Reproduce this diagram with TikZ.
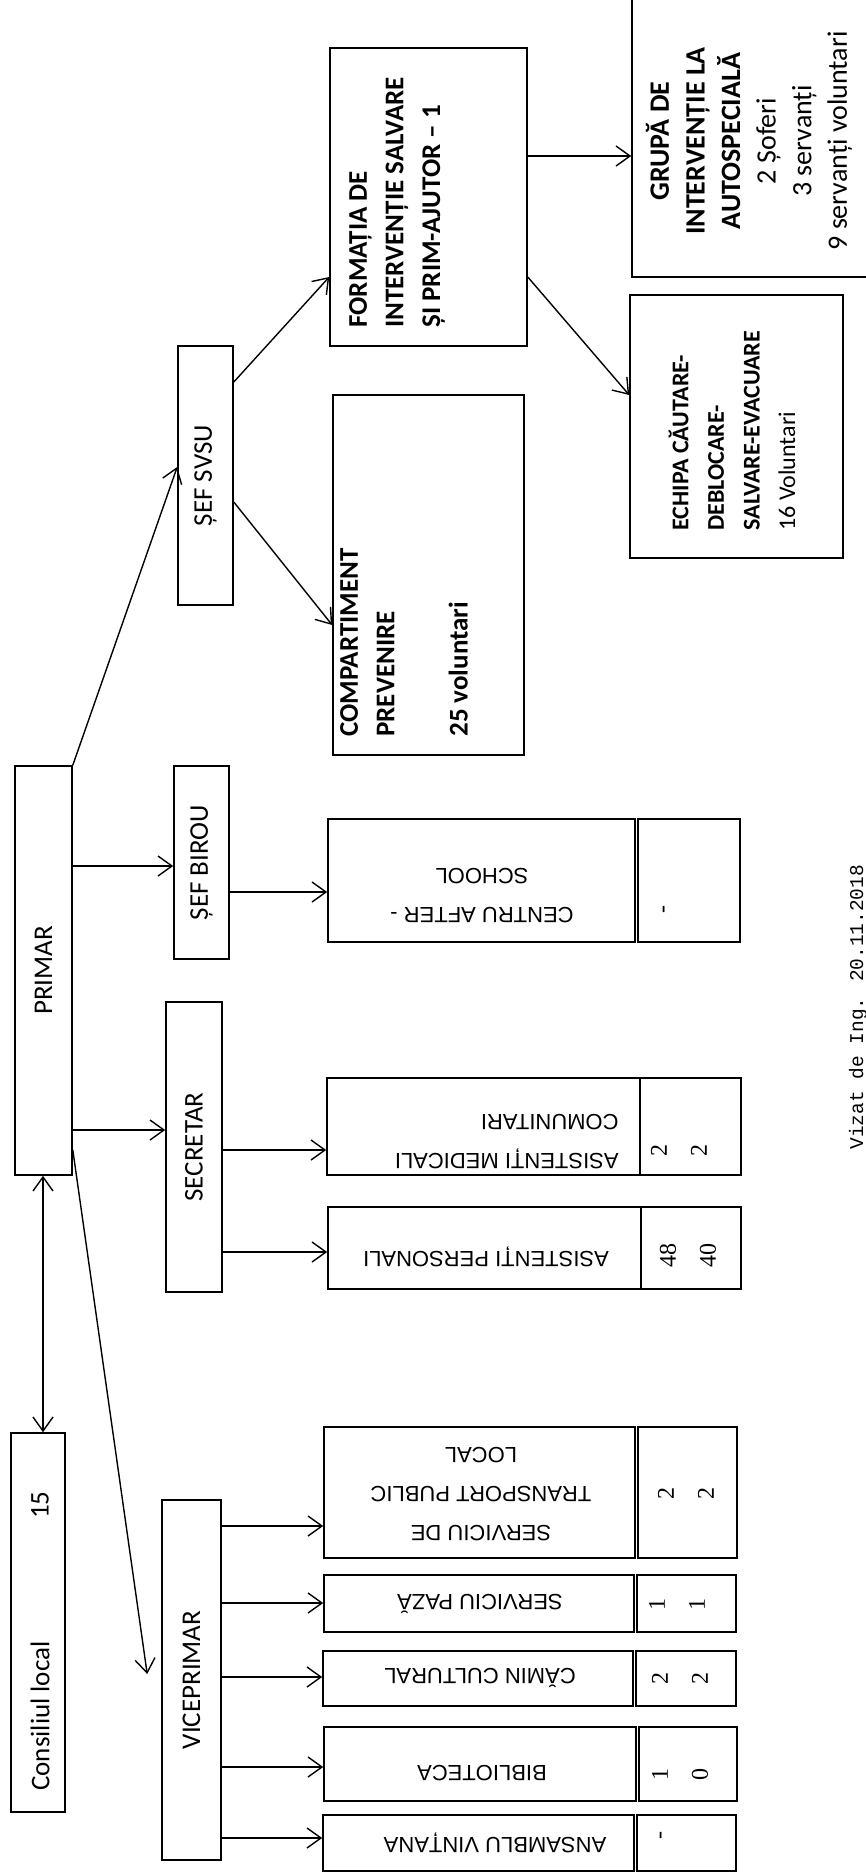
\documentclass[tikz,border=0pt]{standalone}
\usepackage{fontspec}
\newfontfamily\calfont{Carlito}
\newfontfamily\cellfont{Liberation Sans}
\newfontfamily\numfont{Liberation Serif}
\newfontfamily\notefont{Liberation Mono}
\usetikzlibrary{arrows.meta,fit}

\begin{document}
\begin{tikzpicture}[x=0.5pt, y=-0.5pt, >={Straight Barb[length=7pt,width=10pt]},
    box/.style={draw, line width=0.8pt, inner sep=0pt},
    link/.style={->, line width=0.7pt},
    head/.style={rotate=90, inner sep=0pt, font=\calfont\fontsize{13.5}{16}\selectfont},
    team/.style={rotate=90, inner sep=0pt, align=left, font=\calfont\fontsize{13.5}{18.3}\selectfont},
    unit/.style={rotate=180, inner sep=0pt, align=center, font=\cellfont\fontsize{11}{19.5}\selectfont},
    count/.style={rotate=90, inner sep=0pt, align=center, font=\numfont\fontsize{12}{20}\selectfont}]
    \useasboundingbox (0,0) rectangle (866,1874);
    \clip (0,0) rectangle (866,1874);

    % left column
    \node[box, fit={(11,1433) (65,1812)}] (consiliu) {};
    \node[head, anchor=west] (consiliu-t) at (40,1791) {Consiliul local};
    \node[head] (consiliu-nr) at (40,1505) {15};
    \node[box, fit={(15,766) (72,1175)}] (primar) {};
    \node[head] at (primar) {PRIMAR};
    \draw[<->, line width=0.7pt] (primar.south -| 43,0) -- (consiliu.north -| 43,0);

    % second column
    \node[box, fit={(178,346) (233,605)}] (sefsvsu) {};
    \node[head] at (sefsvsu) {ȘEF SVSU};
    \node[box, fit={(174,766) (229,959)}] (sefbirou) {};
    \node[head] at (sefbirou) {ȘEF BIROU};
    \node[box, fit={(166,1002) (222,1292)}] (secretar) {};
    \node[head] at (secretar) {SECRETAR};
    \node[box, fit={(162,1500) (221,1860)}] (vice) {};
    \node[head] at (vice) {VICEPRIMAR};

    \draw[link] (primar.north east) -- (sefsvsu.west |- 0,467);
    \draw[link] (primar.east |- 0,866) -- (sefbirou.west |- 0,866);
    \draw[link] (primar.east |- 0,1130) -- (secretar.west |- 0,1130);
    \draw[link] (primar.east |- 0,1150) -- ([xshift=-7pt,yshift=3pt]vice.west);

    % SVSU branch
    \node[box, fit={(330,48) (527,346)}] (formatia) {};
    \node[team, anchor=west] at (397,328) {\bfseries FORMAȚIA DE\\\bfseries INTERVENȚIE SALVARE\\\bfseries ȘI PRIM-AJUTOR – 1};
    \node[box, fit={(333,395) (524,755)}] (compart) {};
    \node[team, anchor=west] at (404,737) {\bfseries COMPARTIMENT\\\bfseries PREVENIRE\\[18.3pt]\bfseries 25 voluntari};
    \node[box, fit={(632,-20) (890,277)}] (grupa) {};
    \node[rotate=90, inner sep=0pt, align=center, font=\calfont\fontsize{14}{17.8}\selectfont] at (749,141)
        {\bfseries GRUPĂ DE\\\bfseries INTERVENȚIE LA\\\bfseries AUTOSPECIALĂ\\2 Șoferi\\3 servanți\\9 servanți voluntari};
    \node[box, fit={(630,295) (843,558)}] (echipa) {};
    \node[rotate=90, inner sep=0pt, anchor=west, align=left, font=\calfont\fontsize{12}{17.8}\selectfont] at (732,531)
        {\bfseries ECHIPA CĂUTARE-\\\bfseries DEBLOCARE-\\\bfseries SALVARE-EVACUARE\\16 Voluntari};

    \draw[link] (sefsvsu.east |- 0,382) -- (formatia.west |- 0,277);
    \draw[link] (sefsvsu.east |- 0,502) -- (compart.west |- 0,625);
    \draw[link] (formatia.east |- 0,156) -- (grupa.west |- 0,156);
    \draw[link] (formatia.east |- 0,277) -- (echipa.west |- 0,395);

    % units with staff numbers
    \node[box, fit={(328,819) (635,942)}] (centru) {};
    \node[box, fit={(638,819) (740,942)}] (centru-n) {};
    \node[unit] at (482,896) {CENTRU AFTER -\\SCHOOL};
    \node[count] at (666,909) {-};

    \node[box, fit={(327,1078) (640,1175)}] (medicali) {};
    \node[box, fit={(640,1078) (741,1175)}] (medicali-n) {};
    \node[unit, anchor=west, align=left] at (619,1142) {ASISTENȚI MEDICALI\\COMUNITARI};
    \node[count] at (679,1150) {2\\2};

    \node[box, fit={(328,1207) (641,1289)}] (personali) {};
    \node[box, fit={(641,1207) (741,1289)}] (personali-n) {};
    \node[unit] at (486,1257) {ASISTENȚI PERSONALI};
    \node[count] at (688,1255) {48\\40};

    \node[box, fit={(324,1427) (635,1558)}] (transport) {};
    \node[box, fit={(638,1427) (737,1558)}] (transport-n) {};
    \node[unit] at (481,1494) {SERVICIU DE\\TRANSPORT PUBLIC\\LOCAL};
    \node[count] at (686,1493) {2\\2};

    \node[box, fit={(324,1575) (634,1632)}] (paza) {};
    \node[box, fit={(637,1575) (736,1632)}] (paza-n) {};
    \node[unit] at (480,1604) {SERVICIU PAZĂ};
    \node[count] at (677,1604) {1\\1};

    \node[box, fit={(323,1651) (633,1706)}] (camin) {};
    \node[box, fit={(636,1651) (736,1706)}] (camin-n) {};
    \node[unit] at (480,1678) {CĂMIN CULTURAL};
    \node[count] at (680,1678) {2\\2};

    \node[box, fit={(324,1727) (636,1801)}] (biblioteca) {};
    \node[box, fit={(639,1727) (737,1801)}] (biblioteca-n) {};
    \node[unit] at (482,1773) {BIBLIOTECA};
    \node[count] at (680,1774) {1\\0};

    \node[box, fit={(323,1815) (634,1871)}] (ansamblu) {};
    \node[box, fit={(637,1815) (736,1871)}] (ansamblu-n) {};
    \node[unit] at (495,1843) {ANSAMBLU VINȚANA};
    \node[count] at (663,1835) {-};

    \draw[link] (sefbirou.east |- 0,892) -- (centru.west |- 0,892);
    \draw[link] (secretar.east |- 0,1150) -- (medicali.west |- 0,1150);
    \draw[link] (secretar.east |- 0,1252) -- (personali.west |- 0,1252);
    \draw[link] (vice.east |- 0,1526) -- (transport.west |- 0,1526);
    \draw[link] (vice.east |- 0,1603) -- (paza.west |- 0,1603);
    \draw[link] (vice.east |- 0,1677) -- (camin.west |- 0,1677);
    \draw[link] (vice.east |- 0,1767) -- (biblioteca.west |- 0,1767);
    \draw[link] (vice.east |- 0,1838) -- (ansamblu.west |- 0,1838);

    \node[rotate=90, inner sep=0pt, anchor=west, font=\notefont\fontsize{9.75}{11}\selectfont] (vizat) at (858,1150)
        {Vizat de Ing. 20.11.2018};
\end{tikzpicture}
\end{document}
